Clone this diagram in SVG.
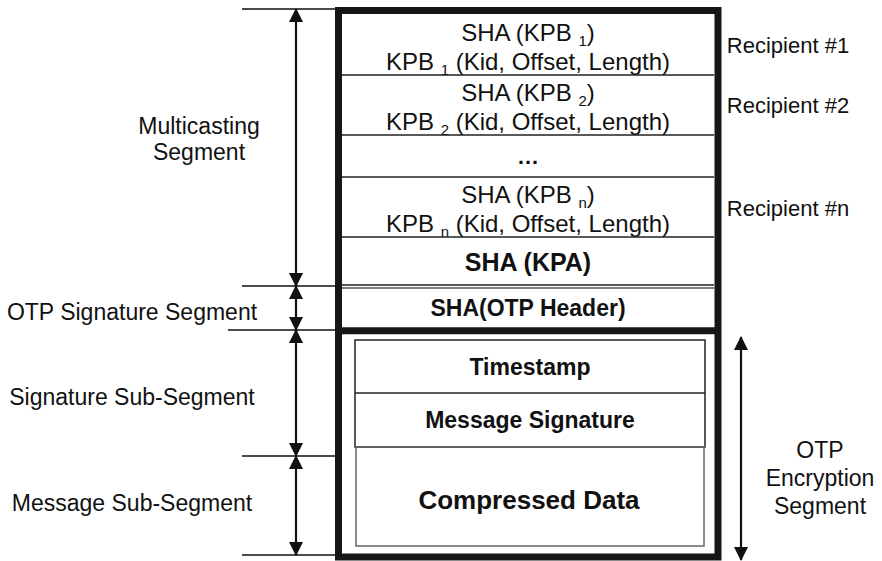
<svg xmlns="http://www.w3.org/2000/svg" width="882" height="561" viewBox="0 0 882 561">
<style>
text{font-family:"Liberation Sans",Arial,sans-serif;fill:#111;}
.lbl{font-size:23px;text-anchor:middle;}
.rl{font-size:22px;text-anchor:middle;}
.bx{font-size:24px;text-anchor:middle;}
.b{font-weight:bold;text-anchor:middle;}
.sub{font-size:15px;}
.thin{stroke:#222;stroke-width:1.5;fill:none;}
.ref{stroke:#111;stroke-width:1.3;fill:none;}
.arr{stroke:#111;stroke-width:2.2;fill:none;marker-start:url(#ah);marker-end:url(#ah);}
</style>
<defs>
<marker id="ah" viewBox="0 0 14 14" refX="13" refY="7" markerWidth="14" markerHeight="14" orient="auto-start-reverse" markerUnits="userSpaceOnUse">
<path d="M0,0 L14,7 L0,14 z" fill="#111"/>
</marker>
</defs>
<rect width="882" height="561" fill="#fff"/>

<g id="frame">
<rect x="338.5" y="10.5" width="379.5" height="546.5" fill="none" stroke="#161616" stroke-width="7"/>
<line x1="338" y1="330.7" x2="718" y2="330.7" stroke="#161616" stroke-width="7"/>
</g>

<g id="recipient1">
<text class="bx" x="528" y="41">SHA (KPB <tspan class="sub" dy="5">1</tspan><tspan dy="-5">)</tspan></text>
<text class="bx" x="528" y="70">KPB <tspan class="sub" dy="5">1</tspan><tspan dy="-5"> (Kid, Offset, Length)</tspan></text>
<line class="thin" x1="342" y1="75" x2="714" y2="75"/>
</g>
<g id="recipient2">
<text class="bx" x="528" y="101">SHA (KPB <tspan class="sub" dy="5">2</tspan><tspan dy="-5">)</tspan></text>
<text class="bx" x="528" y="130">KPB <tspan class="sub" dy="5">2</tspan><tspan dy="-5"> (Kid, Offset, Length)</tspan></text>
<line class="thin" x1="342" y1="135" x2="714" y2="135"/>
</g>
<g id="ellipsis">
<text class="b" x="528" y="164" font-size="22">…</text>
<line class="thin" x1="342" y1="177" x2="714" y2="177"/>
</g>
<g id="recipientn">
<text class="bx" x="528" y="203">SHA (KPB <tspan class="sub" dy="5">n</tspan><tspan dy="-5">)</tspan></text>
<text class="bx" x="528" y="232">KPB <tspan class="sub" dy="5">n</tspan><tspan dy="-5"> (Kid, Offset, Length)</tspan></text>
<line class="thin" x1="342" y1="237" x2="714" y2="237"/>
</g>
<g id="kpa">
<text class="b" x="528" y="271" font-size="25">SHA (KPA)</text>
<line class="thin" x1="342" y1="285" x2="714" y2="285"/>
<line x1="342" y1="288" x2="714" y2="288" stroke="#555" stroke-width="1.3"/>
</g>
<g id="otpheader">
<text class="b" x="528" y="316" font-size="23">SHA(OTP Header)</text>
</g>
<g id="timestamp">
<rect x="355" y="340" width="350" height="107" fill="none" stroke="#222" stroke-width="1.5"/>
<line class="thin" x1="355" y1="393" x2="705" y2="393"/>
<text class="b" x="530" y="375" font-size="23">Timestamp</text>
</g>
<g id="msgsig">
<text class="b" x="530" y="428" font-size="23">Message Signature</text>
</g>
<g id="compressed">
<rect x="356" y="447" width="348" height="99" fill="none" stroke="#666" stroke-width="1.5"/>
<text class="b" x="529" y="509" font-size="26">Compressed Data</text>
</g>

<g id="labels">
<text class="lbl" x="199" y="134">Multicasting</text>
<text class="lbl" x="199" y="160">Segment</text>
<text class="lbl" x="132" y="320">OTP Signature Segment</text>
<text class="lbl" x="132" y="405">Signature Sub-Segment</text>
<text class="lbl" x="132" y="511">Message Sub-Segment</text>
<text class="rl" x="788" y="53">Recipient #1</text>
<text class="rl" x="788" y="113">Recipient #2</text>
<text class="rl" x="788" y="216">Recipient #n</text>
<text class="lbl" x="820" y="458">OTP</text>
<text class="lbl" x="820" y="486">Encryption</text>
<text class="lbl" x="820" y="514">Segment</text>
</g>

<g id="connectors">
<line class="ref" x1="242" y1="9" x2="336" y2="9"/>
<line class="ref" x1="242" y1="286" x2="336" y2="286"/>
<line class="ref" x1="228" y1="330" x2="336" y2="330"/>
<line class="ref" x1="242" y1="456" x2="336" y2="456"/>
<line class="ref" x1="242" y1="555" x2="336" y2="555"/>
<line class="arr" x1="296" y1="9" x2="296" y2="286"/>
<line class="arr" x1="296" y1="286" x2="296" y2="330"/>
<line class="arr" x1="296" y1="330" x2="296" y2="456"/>
<line class="arr" x1="296" y1="456" x2="296" y2="555"/>
<line class="arr" x1="741" y1="337" x2="741" y2="560"/>
</g>
</svg>
